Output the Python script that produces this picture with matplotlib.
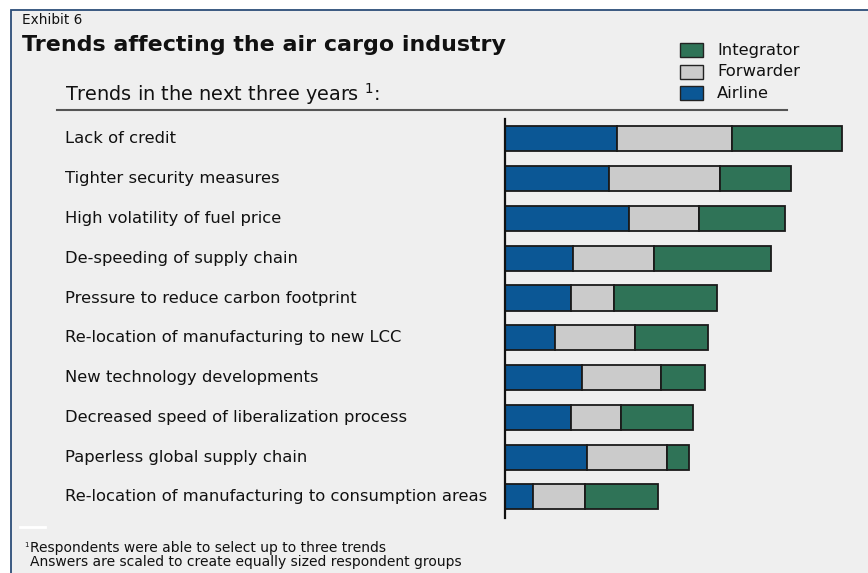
import numpy as np
import matplotlib.pyplot as plt
import matplotlib.transforms as mtransforms
from matplotlib.patches import Rectangle

plt.rcParams['font.family'] = ['DejaVu Sans']

# data (relative share of mentions)
trends = ["Lack of credit",
          "Tighter security measures",
          "High volatility of fuel price",
          "De-speeding of supply chain",
          "Pressure to reduce carbon footprint",
          "Re-location of manufacturing to new LCC",
          "New technology developments",
          "Decreased speed of liberalization process",
          "Paperless global supply chain",
          "Re-location of manufacturing to consumption areas"]
airline = [37.2, 34.8, 41.4, 22.6, 21.9, 16.7, 25.8, 22.0, 27.4, 9.2]
forwarder = [38.4, 36.7, 23.3, 27.1, 14.4, 26.6, 26.3, 16.8, 26.5, 17.4]
integrator = [36.6, 23.8, 28.7, 38.9, 34.2, 24.2, 14.7, 23.8, 7.5, 24.4]

c_air = '#0b5795'
c_fwd = '#cbcbcb'
c_int = '#2f7357'

W, H = 868, 573
fig = plt.figure(figsize=(W / 100, H / 100), dpi=100)
fig.patch.set_facecolor('white')

def fx(px):
    return px / W

def fy(py):
    return 1 - py / H

# panel background with border
bg = fig.add_axes([0, 0, 1, 1], zorder=-5)
bg.set_xlim(0, W)
bg.set_ylim(H, 0)
bg.axis('off')
bg.add_patch(Rectangle((11, 10), W + 20, H + 20, facecolor='#efefef',
                       edgecolor='#2c4d78', lw=1.3))

ax = fig.add_axes([fx(505), fy(518), fx(868) - fx(505), (518 - 119) / H], zorder=2)
ax.set_facecolor('none')

y = np.arange(len(trends))
a = np.array(airline)
f = np.array(forwarder)
g = np.array(integrator)
bh = 0.63
ax.barh(y, a, height=bh, color=c_air, edgecolor='#1a1a1a', lw=1.3, label='Airline')
ax.barh(y, f, left=a, height=bh, color=c_fwd, edgecolor='#1a1a1a', lw=1.3, label='Forwarder')
ax.barh(y, g, left=a + f, height=bh, color=c_int, edgecolor='#1a1a1a', lw=1.3, label='Integrator')

ax.set_xlim(0, (868 - 505) / 3)
ax.set_ylim(9.53, -0.50)
for s in ['top', 'right', 'bottom']:
    ax.spines[s].set_visible(False)
ax.spines['left'].set_linewidth(1.6)
ax.spines['left'].set_color('#111111')
ax.set_xticks([])
ax.set_yticks([])

trans = mtransforms.blended_transform_factory(fig.transFigure, ax.transData)
for i, t in enumerate(trends):
    ax.text(fx(65), i, t, transform=trans, ha='left', va='center',
            fontsize=11.8, color='#111111', clip_on=False)

# titles
fig.text(fx(22), fy(20), "Exhibit 6", fontsize=9.8, ha='left', va='center', color='#111111')
fig.text(fx(22), fy(45), "Trends affecting the air cargo industry", fontsize=15.9,
         fontweight='bold', ha='left', va='center', color='#111111')
fig.text(fx(65), fy(94), "Trends in the next three years $^1$:", fontsize=13.9,
         ha='left', va='center', color='#111111')
fig.add_artist(plt.Line2D([fx(57), fx(787)], [fy(110), fy(110)],
                          transform=fig.transFigure, color='#555555', lw=1.5))

# legend
for k, (lab, col) in enumerate([("Integrator", c_int), ("Forwarder", c_fwd), ("Airline", c_air)]):
    yc = 50 + k * 21.5
    fig.patches.append(Rectangle((fx(680), fy(yc + 7)), 23 / W, 14 / H,
                                 transform=fig.transFigure, facecolor=col,
                                 edgecolor='#222222', lw=1.0))
    fig.text(fx(717), fy(yc), lab, fontsize=11.8, ha='left', va='center', color='#111111')

# footnote
fig.add_artist(plt.Line2D([fx(20), fx(45)], [fy(527), fy(527)],
                          transform=fig.transFigure, color='white', lw=2))
fig.text(fx(24), fy(545), "1", fontsize=5, ha='left', va='center', color='#111111')
fig.text(fx(30), fy(548), "Respondents were able to select up to three trends",
         fontsize=10, ha='left', va='center', color='#111111')
fig.text(fx(30), fy(562), "Answers are scaled to create equally sized respondent groups",
         fontsize=10, ha='left', va='center', color='#111111')

fig.savefig('out.png', dpi=100, facecolor=fig.get_facecolor())
